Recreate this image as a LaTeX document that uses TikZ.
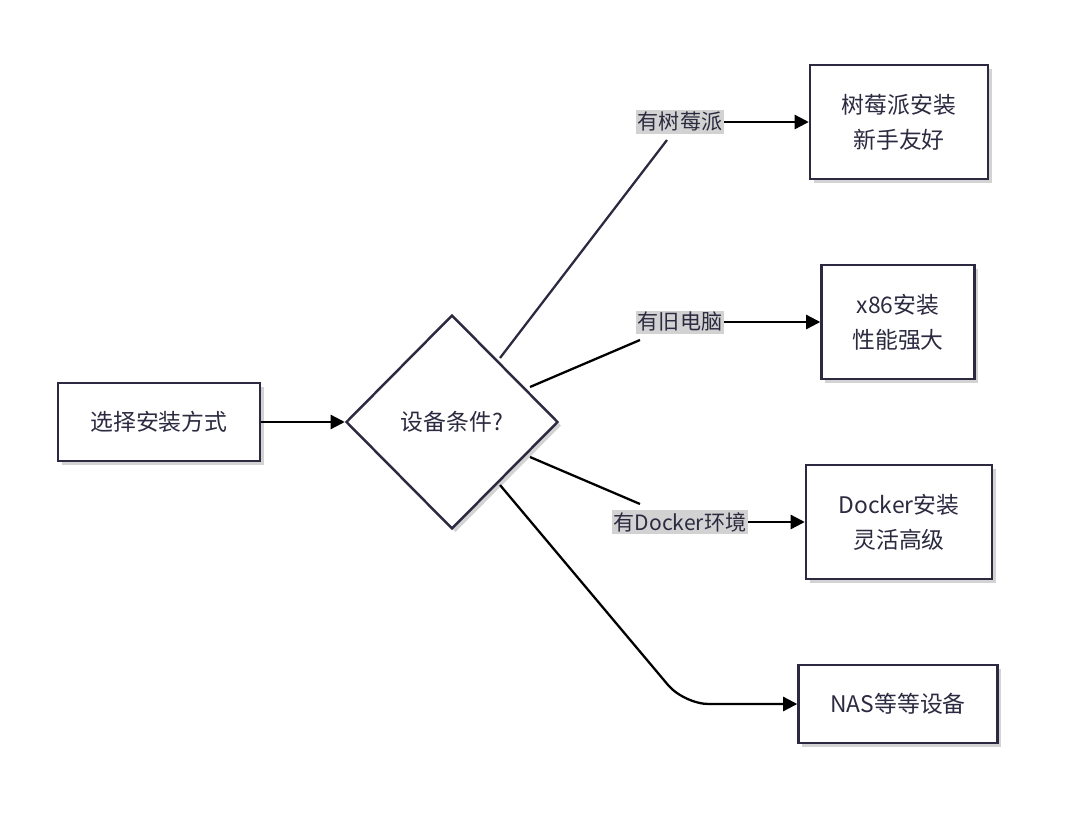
\documentclass[tikz,border=0pt]{standalone}
\usepackage{fontspec}
\setmainfont{Noto Sans CJK SC}
\usetikzlibrary{shapes.geometric,arrows.meta,shadows}
\definecolor{ink}{HTML}{2B2A40}
\begin{document}
\begin{tikzpicture}[x=0.02cm,y=-0.02cm,
  box/.style={draw=ink,line width=1.4pt,fill=white,align=center,font=\fontsize{13pt}{20pt}\selectfont,text=ink,
    drop shadow={shadow xshift=2pt,shadow yshift=-2pt,fill=gray,opacity=0.35}},
  lab/.style={fill=gray!35,inner sep=1pt,font=\fontsize{12pt}{14pt}\selectfont,text=ink},
  arr/.style={line width=1.3pt,-{Triangle[length=8pt,width=8pt]},rounded corners=14pt}]
\useasboundingbox (0,0) rectangle (1080,832);
\node[box,minimum width=202*0.02cm,minimum height=78*0.02cm] (a) at (159,422) {选择安装方式};
\node[box,diamond,minimum width=212*0.02cm,minimum height=214*0.02cm,inner sep=0pt] (d) at (452,422) {设备条件?};
\node[box,minimum width=178*0.02cm,minimum height=114*0.02cm] (b1) at (899,122) {树莓派安装\\新手友好};
\node[box,minimum width=153*0.02cm,minimum height=114*0.02cm] (b2) at (898,322) {x86安装\\性能强大};
\node[box,minimum width=186*0.02cm,minimum height=114*0.02cm] (b3) at (899,522) {Docker安装\\灵活高级};
\node[box,minimum width=199*0.02cm,minimum height=78*0.02cm] (b4) at (898,704) {NAS等等设备};
\draw[arr] (a) -- (d);
\node[lab] (l1) at (680,122) {有树莓派};
\node[lab] (l2) at (680,322) {有旧电脑};
\node[lab] (l3) at (680,522) {有Docker环境};
\draw[line width=1.3pt,ink] (500,358) -- (667,140);
\draw[arr] (l1.east) -- (b1);
\draw[line width=1.3pt] (530,387) -- (640,340);
\draw[arr] (l2.east) -- (b2);
\draw[line width=1.3pt] (530,457) -- (640,504);
\draw[arr] (l3.east) -- (b3);
\draw[arr] (500,485) -- (684,704) -- (b4);
\end{tikzpicture}
\end{document}
